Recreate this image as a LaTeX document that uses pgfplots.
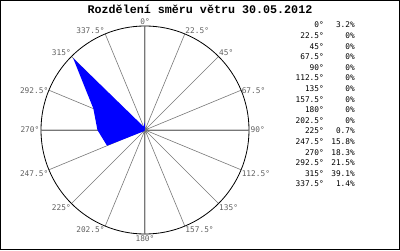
\documentclass[border=0pt]{standalone}
\usepackage{pgfplots}
\pgfplotsset{compat=1.18}
\usepgfplotslibrary{polar}
\usepackage{fontspec}
\newfontfamily\monofont{Liberation Mono}
\newfontfamily\smallmono{DejaVu Sans Mono}
\definecolor{spoke}{HTML}{777777}
\definecolor{labelgray}{HTML}{606060}
\begin{document}
\begin{tikzpicture}
\useasboundingbox (0,0) rectangle (400pt,250pt);
\begin{polaraxis}[
  at={(145pt,120pt)}, anchor=center,
  width=208pt, height=208pt, scale only axis,
  ymin=0, ymax=40, ytick=\empty,
  xtick={0,22.5,...,337.5}, xticklabels={},
  major tick length=0pt,
  xmajorgrids, grid style={color=spoke, line width=0.6pt},
  axis line style={black, line width=0.8pt},
  x filter/.expression={90-x},
  clip=false,
]
\addplot[spoke, line width=1pt] coordinates {(0,40) (180,40)};
\addplot[spoke, line width=1pt] coordinates {(90,40) (270,40)};
\addplot[fill=blue, draw=none] coordinates {
  (0,3.2) (22.5,0) (45,0) (67.5,0) (90,0) (112.5,0) (135,0) (157.5,0)
  (180,0) (202.5,0) (225,0.7) (247.5,15.8) (270,18.3) (292.5,21.5)
  (315,39.1) (337.5,1.4)} -- cycle;
\end{polaraxis}
\begin{scope}[shift={(145pt,120pt)}, font=\smallmono\fontsize{7.8}{9}\selectfont, text=labelgray, inner sep=0.5pt]
\node[anchor=south] at (90:105pt) {0°};
\node[anchor=south west] at (67.5:104pt) {22.5°};
\node[anchor=south west] at (45:104pt) {45°};
\node[anchor=west] at (22.5:104pt) {67.5°};
\node[anchor=west] at (0:105pt) {90°};
\node[anchor=north west] at (-22.5:104pt) {112.5°};
\node[anchor=north west] at (-45:104pt) {135°};
\node[anchor=north west] at (-67.5:104pt) {157.5°};
\node[anchor=north] at (-90:105pt) {180°};
\node[anchor=north east] at (-112.5:104pt) {202.5°};
\node[anchor=north east] at (-135:104pt) {225°};
\node[anchor=north east] at (-157.5:104pt) {247.5°};
\node[anchor=east] at (180:105pt) {270°};
\node[anchor=east] at (157.5:104pt) {292.5°};
\node[anchor=south east] at (135:104pt) {315°};
\node[anchor=south east] at (112.5:104pt) {337.5°};
\end{scope}
\node[font=\monofont\bfseries\fontsize{11.7}{13}\selectfont, inner sep=0pt] at (200pt,241pt) {Rozdělení směru větru 30.05.2012};
\begin{scope}[font=\smallmono\fontsize{7.8}{9}\selectfont, inner sep=0pt]
\foreach \a/\p [count=\i from 0] in {0/3.2, 22.5/0, 45/0, 67.5/0, 90/0, 112.5/0, 135/0, 157.5/0, 180/0, 202.5/0, 225/0.7, 247.5/15.8, 270/18.3, 292.5/21.5, 315/39.1, 337.5/1.4}{
  \node[anchor=east] at (324pt,{225pt-10.6pt*\i}) {\a°};
  \node[anchor=east] at (355pt,{225pt-10.6pt*\i}) {\p\%};
}
\end{scope}
\draw[black, line width=1pt] (0.5pt,0.5pt) rectangle (399.5pt,249.5pt);
\end{tikzpicture}
\end{document}
